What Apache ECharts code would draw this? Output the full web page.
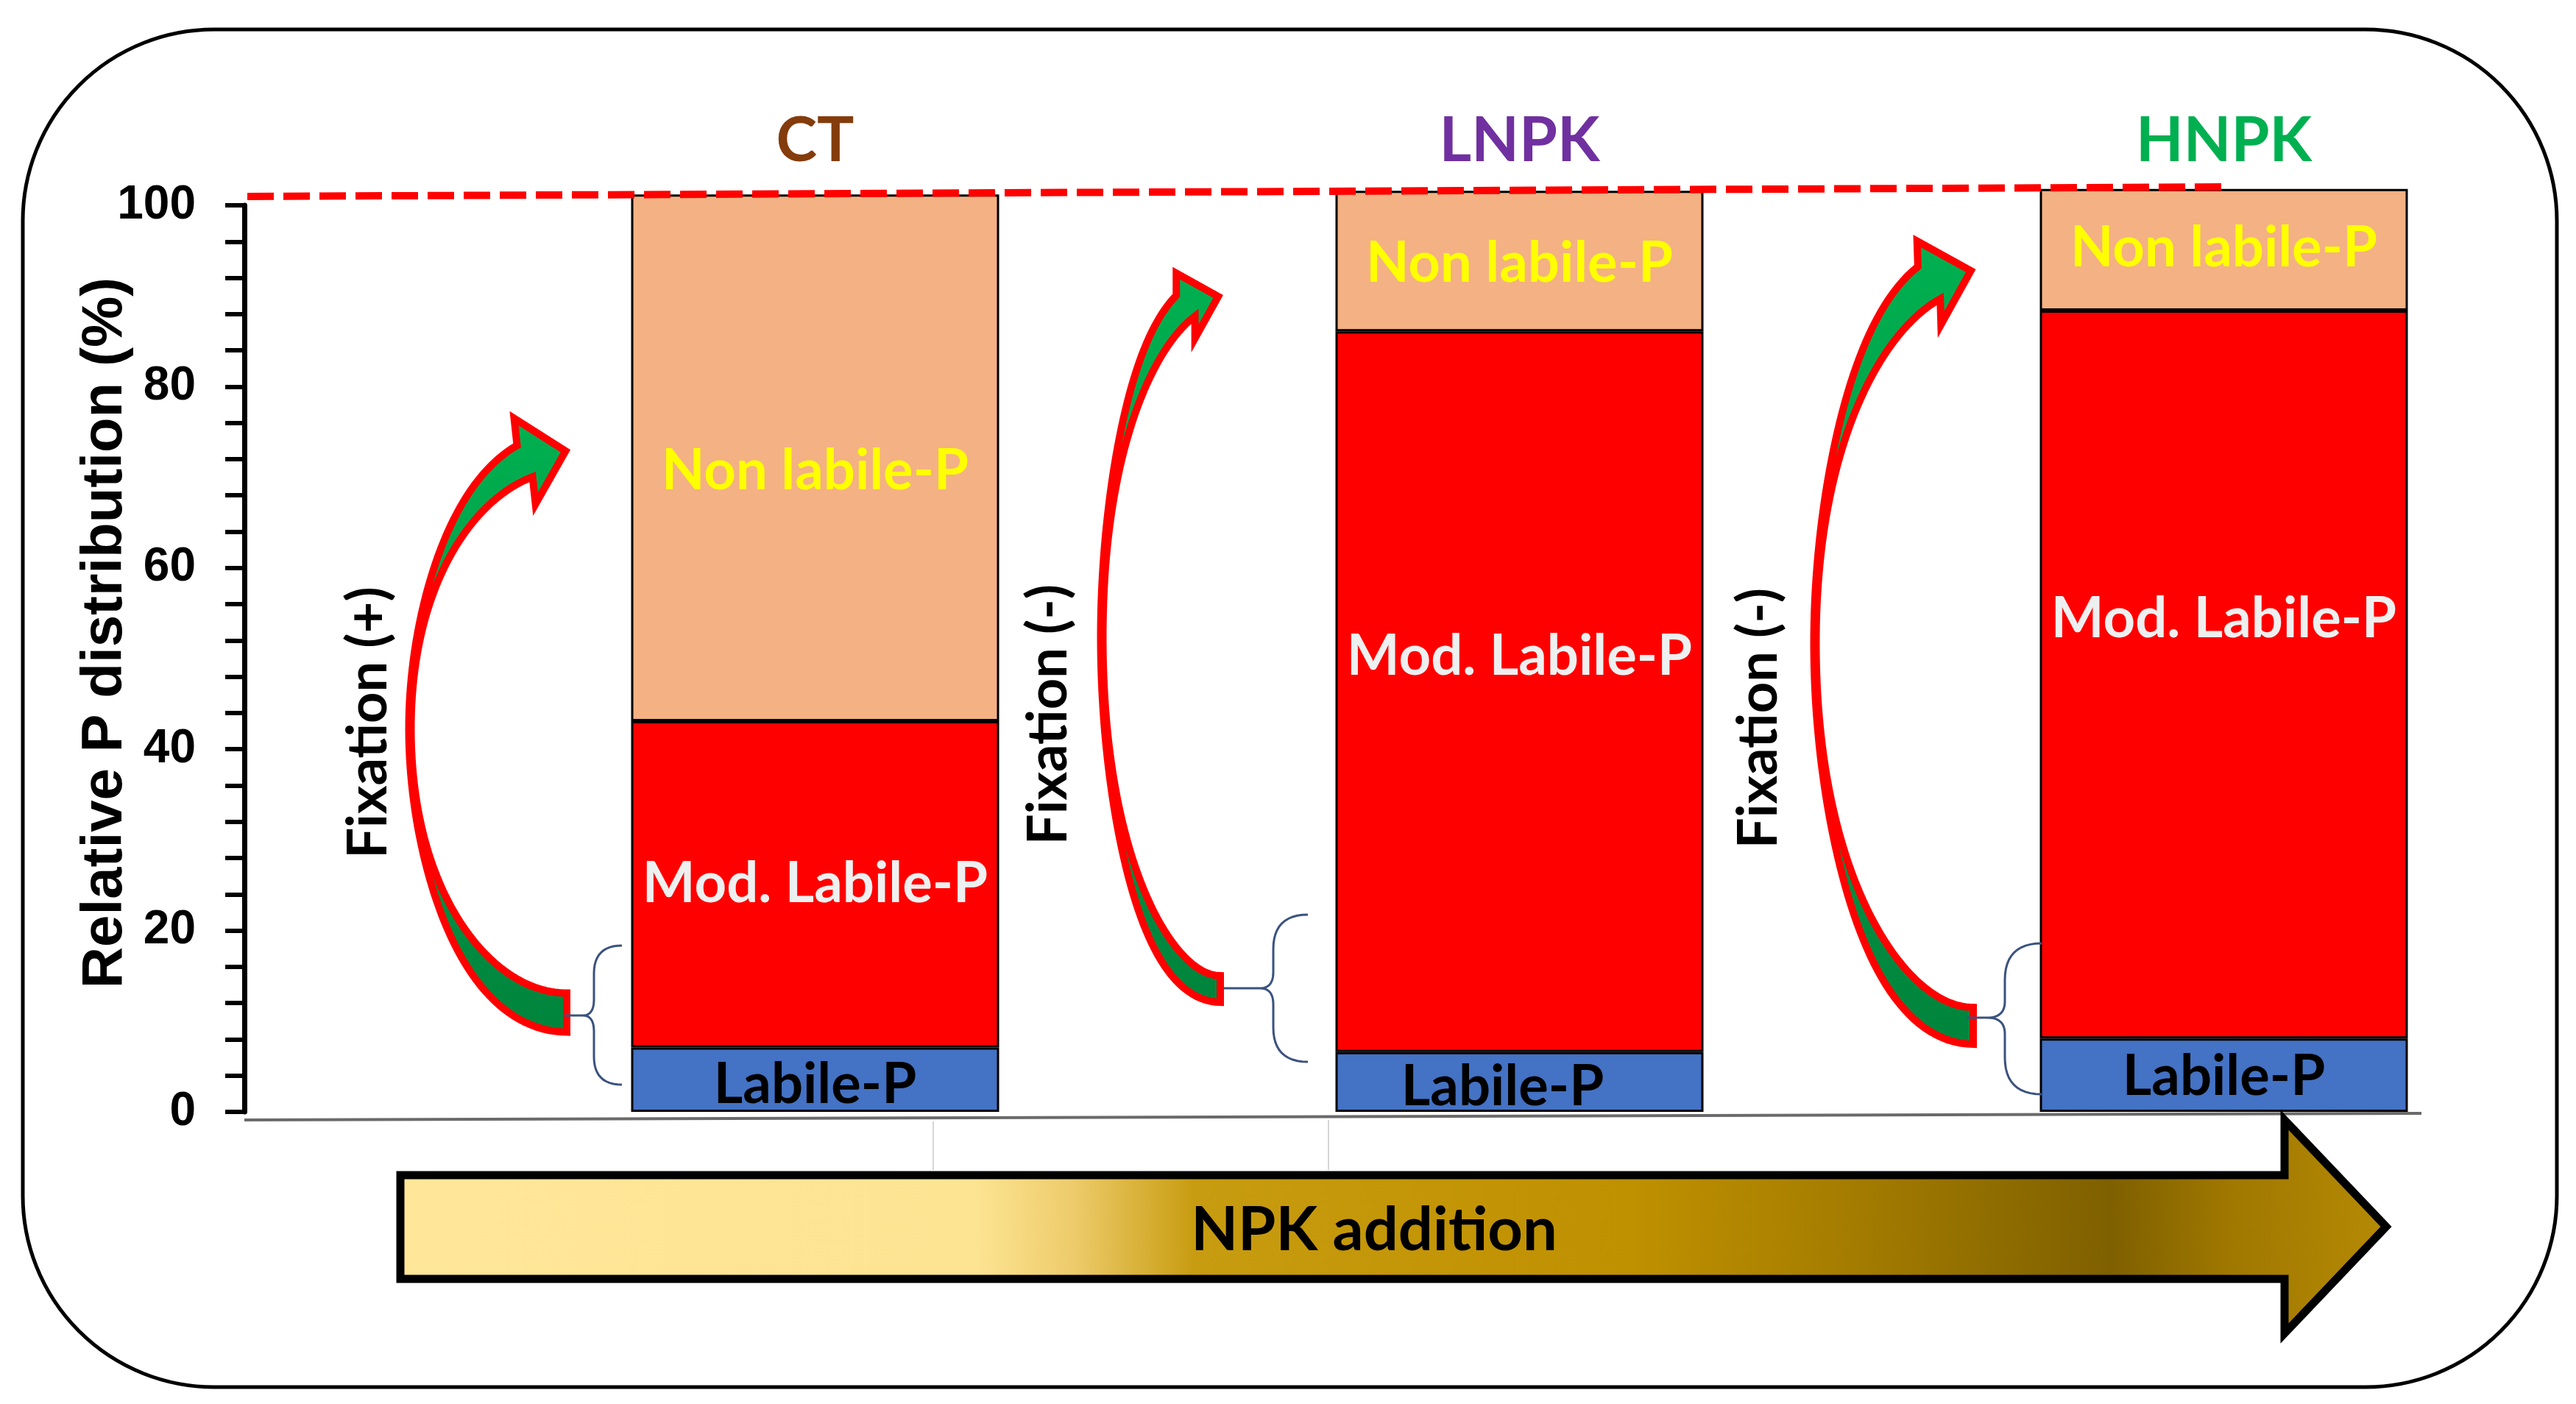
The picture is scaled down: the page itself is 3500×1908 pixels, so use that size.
<!DOCTYPE html>
<html><head><meta charset="utf-8">
<script src="https://cdn.jsdelivr.net/npm/echarts@6/dist/echarts.min.js"></script>
<style>html,body{margin:0;padding:0;background:#fff}#c{width:3500px;height:1908px}</style>
</head><body><div id="c"></div>
<script>
// ---- data ----
const categories = ['CT', 'LNPK', 'HNPK'];
const labileP = [7.1, 6.6, 8.1];
const modLabileP = [36.0, 79.5, 80.3];
const nonLabileP = [58.1, 15.5, 13.4];
const yTickValues = [0, 20, 40, 60, 80, 100];
const seriesNames = ['Labile-P', 'Mod. Labile-P', 'Non labile-P'];

// ---- styles ----
const catColors = ['#843C0C', '#7030A0', '#00B050'];
const labelFont = 'Lato, "Open Sans", sans-serif';
const axisFont = '"Liberation Sans", Arial, sans-serif';

function mkSeries(name, values, color, labelColor, offsets) {
  return {
    name: name, type: 'bar', stack: 'p', barWidth: 500, clip: false,
    data: values.map((v, i) => ({ value: v, label: { offset: offsets[i] } })),
    itemStyle: { color: color, borderColor: '#000', borderWidth: 3 },
    label: { show: true, position: 'inside', formatter: '{a}', color: labelColor,
      fontFamily: labelFont, fontWeight: 'bold', fontSize: 76 }
  };
}

function curvedArrow(a) {
  const rad = Math.PI / 180, N = 90;
  const t0 = 90 * rad, t1 = a.tTop * rad;
  const outer = [], inner = [];
  for (let k = 0; k <= N; k++) {
    const t = t0 + (t1 - t0) * k / N;
    const ry = t > 0 ? a.ryB : a.ryT;
    const px = a.cx - a.rx * Math.cos(t), py = a.cy + ry * Math.sin(t);
    let nx = -Math.cos(t) / a.rx, ny = Math.sin(t) / ry;
    const nl = Math.hypot(nx, ny); nx /= nl; ny /= nl;
    const s = Math.abs(Math.sin(t));
    const hEnd = t > 0 ? a.hTail : a.hNeck;
    const h = a.hMid + (hEnd - a.hMid) * Math.pow(s, a.p);
    outer.push([px + nx * h / 2, py + ny * h / 2]);
    inner.push([px - nx * h / 2, py - ny * h / 2]);
  }
  const bx = a.cx - a.rx * Math.cos(t1), by = a.cy + a.ryT * Math.sin(t1);
  const da = a.headAng * rad, dx = Math.cos(da), dy = Math.sin(da);
  const ox = dy, oy = -dx;
  const head = [[bx + ox * a.hw, by + oy * a.hw], [bx + dx * a.hl, by + dy * a.hl], [bx - ox * a.hw, by - oy * a.hw]];
  return {
    type: 'polygon', z: 50,
    shape: { points: outer.concat(head, inner.reverse()) },
    style: { fill: { type: 'linear', x: 0, y: 0, x2: 0, y2: 1,
      colorStops: [{ offset: 0, color: '#00B050' }, { offset: 1, color: '#00843C' }] },
      stroke: '#FF0000', lineWidth: 10, lineJoin: 'miter' }
  };
}

function quad(p0, c, p1, out) {
  for (let k = 1; k <= 12; k++) {
    const t = k / 12, u = 1 - t;
    out.push([u * u * p0[0] + 2 * u * t * c[0] + t * t * p1[0], u * u * p0[1] + 2 * u * t * c[1] + t * t * p1[1]]);
  }
}
function brace(b) {
  const r = b.xe - b.xs, r2 = 22;
  const pts = [[b.xe, b.yt]];
  quad([b.xe, b.yt], [b.xs, b.yt], [b.xs, b.yt + r], pts);
  pts.push([b.xs, b.ym - r2]);
  quad([b.xs, b.ym - r2], [b.xs, b.ym], [b.xt, b.ym], pts);
  quad([b.xt, b.ym], [b.xs, b.ym], [b.xs, b.ym + r2], pts);
  pts.push([b.xs, b.yb - r]);
  quad([b.xs, b.yb - r], [b.xs, b.yb], [b.xe, b.yb], pts);
  return [
    { type: 'polyline', z: 55, shape: { points: pts }, style: { fill: null, stroke: '#3A5280', lineWidth: 3 } },
    { type: 'line', z: 55, shape: { x1: b.xt, y1: b.ym, x2: b.stub, y2: b.ym }, style: { stroke: '#3A5280', lineWidth: 3 } }
  ];
}

function vText(text, x, y) {
  return { type: 'text', z: 60, x: x, y: y, rotation: Math.PI / 2,
    style: { text: text, x: 0, y: 0, align: 'center', verticalAlign: 'middle',
      fill: '#000', fontFamily: labelFont, fontWeight: 'bold', fontSize: 74 } };
}

const arrows = [
  { cx: 770, cy: 990, rx: 213, ryB: 386, ryT: 377, tTop: -74.5, hTail: 53, hNeck: 53, hMid: 3, p: 3, headAng: -14, hw: 60, hl: 57 },
  { cx: 1658, cy: 866, rx: 161, ryB: 478, ryT: 471, tTop: -73, hTail: 36, hNeck: 43, hMid: 3, p: 3, headAng: -16, hw: 46, hl: 46 },
  { cx: 2681, cy: 874, rx: 215, ryB: 520, ryT: 510, tTop: -73.8, hTail: 50, hNeck: 60, hMid: 3, p: 3, headAng: -16, hw: 59, hl: 59 }
];
const braces = [
  { xe: 845, xs: 807, xt: 792, stub: 767, yt: 1285, ym: 1380, yb: 1474 },
  { xe: 1777, xs: 1730, xt: 1712, stub: 1663, yt: 1243, ym: 1343, yb: 1443 },
  { xe: 2774, xs: 2724, xt: 2700, stub: 2672, yt: 1282, ym: 1383, yb: 1487 }
];

let graphics = [
  { type: 'rect', z: 1, shape: { x: 31, y: 40, width: 3443, height: 1845, r: 260 },
    style: { fill: null, stroke: '#000', lineWidth: 5 } },
  { type: 'line', z: 5, shape: { x1: 332, y1: 1522, x2: 3290, y2: 1513 },
    style: { stroke: '#6A6A6A', lineWidth: 4 } },
  { type: 'line', z: 5, shape: { x1: 1268, y1: 1524, x2: 1268, y2: 1590 }, style: { stroke: '#D6D6D6', lineWidth: 2 } },
  { type: 'line', z: 5, shape: { x1: 1805, y1: 1522, x2: 1805, y2: 1590 }, style: { stroke: '#D6D6D6', lineWidth: 2 } },
  { type: 'polygon', z: 20,
    shape: { points: [[544, 1597], [3104, 1597], [3104, 1522], [3242, 1667], [3104, 1812], [3104, 1738], [544, 1738]] },
    style: { fill: { type: 'linear', x: 0, y: 0, x2: 1, y2: 0, colorStops: [
      { offset: 0, color: '#FFE699' }, { offset: 0.29, color: '#FDE493' }, { offset: 0.34, color: '#EDCB6A' },
      { offset: 0.40, color: '#C89C10' }, { offset: 0.62, color: '#BF9000' }, { offset: 0.73, color: '#A47C00' },
      { offset: 0.86, color: '#7F6000' }, { offset: 0.92, color: '#A07800' }, { offset: 1, color: '#B68A05' }] },
      stroke: '#000', lineWidth: 11, lineJoin: 'miter' } },
  { type: 'text', z: 25, x: 1867, y: 1672,
    style: { text: 'NPK addition', x: 0, y: 0, align: 'center', verticalAlign: 'middle',
      fill: '#000', fontFamily: labelFont, fontWeight: 'bold', fontSize: 83 } },
  { type: 'line', z: 70, shape: { x1: 336, y1: 267, x2: 3030, y2: 254 },
    style: { stroke: '#FF0000', lineWidth: 10, lineDash: [36, 13] } },
  vText('Fixation (+)', 501, 982),
  vText('Fixation (-)', 1425, 971),
  vText('Fixation (-)', 2390, 976)
].concat(arrows.map(curvedArrow));
braces.forEach(b => { graphics = graphics.concat(brace(b)); });

const chart = echarts.init(document.getElementById('c'), null, { renderer: 'canvas' });
chart.setOption({
  animation: false,
  backgroundColor: '#fff',
  grid: { left: 629, top: 279, width: 2895, height: 1232 },
  xAxis: {
    type: 'category', data: categories, position: 'top',
    axisLine: { show: false }, axisTick: { show: false }, splitLine: { show: false },
    axisLabel: { margin: 45, fontFamily: labelFont, fontWeight: 'bold', fontSize: 84,
      color: (v, i) => catColors[i] }
  },
  yAxis: {
    type: 'value', min: yTickValues[0], max: yTickValues[yTickValues.length - 1],
    interval: yTickValues[1] - yTickValues[0], offset: 297,
    name: 'Relative P distribution (%)', nameLocation: 'middle', nameGap: 150, nameMoveOverlap: false,
    nameTextStyle: { fontFamily: axisFont, fontWeight: 'bold', fontSize: 78, color: '#000', padding: [0, 0, 0, 70] },
    axisLine: { show: true, lineStyle: { color: '#000', width: 7 } },
    axisTick: { show: true, length: 26, lineStyle: { color: '#000', width: 6 } },
    minorTick: { show: true, splitNumber: 5, length: 26, lineStyle: { color: '#000', width: 6 } },
    splitLine: { show: false }, minorSplitLine: { show: false },
    axisLabel: { margin: 66, fontFamily: axisFont, fontWeight: 'bold', fontSize: 64, color: '#000' }
  },
  series: [
    mkSeries(seriesNames[0], labileP, '#4472C4', '#000', [[0, 7], [-23, 7], [0, 2]]),
    mkSeries(seriesNames[1], modLabileP, '#FF0000', '#EEF0F0', [[0, 0], [0, -47], [0, -75]]),
    mkSeries(seriesNames[2], nonLabileP, '#F4B183', '#FFFF00', [[0, 18], [0, 4], [0, -2]])
  ],
  graphic: { elements: graphics }
});
</script></body></html>
